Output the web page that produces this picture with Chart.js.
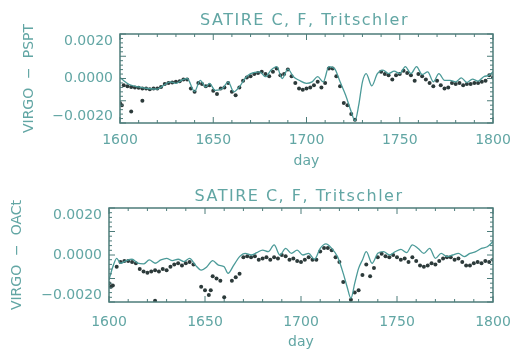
<!DOCTYPE html>
<html>
<head>
<meta charset="utf-8">
<script src="https://cdn.jsdelivr.net/npm/chart.js@4.4.1/dist/chart.umd.min.js"></script>
<style>
  html, body { margin: 0; padding: 0; background: #fff; }
  .panel { width: 511px; }
</style>
</head>
<body>
<div class="panel"><canvas id="topChart" width="511" height="175"></canvas></div>
<div class="panel"><canvas id="bottomChart" width="511" height="176"></canvas></div>
<script>
// values are in units of 0.001 (tick labels carry the real numbers)
const chartTitle = 'SATIRE C, F, Tritschler';
const xTicks = [1600, 1650, 1700, 1750, 1800];
const yTickVals = [-2, -1, 0, 1, 2];
const yTickLabels = ['\u22120.0020', '\u22120.0010', '0.0000', '0.0010', '0.0020'];

// top panel: VIRGO - PSPT
const topModelDays = [1600,1602,1605,1610,1615,1620,1623,1627,1630,1633,1636,1640,1643,1646,1648,1651,1655,1658,1661,1664,1667,1670,1675,1678,1681,1684,1687,1690,1693,1696,1700,1703,1706,1709,1712,1715,1718,1721,1724,1726,1728,1730,1732,1735,1738,1741,1744,1747,1750,1753,1756,1759,1762,1765,1768,1771,1774,1777,1780,1783,1786,1789,1792,1795,1798,1800];
const topModel = [0.05,-0.1,-0.27,-0.38,-0.45,-0.48,-0.33,-0.15,-0.22,-0.08,0,-0.58,-0.08,-0.38,-0.22,-0.53,-0.45,-0.15,-0.6,-0.38,0,0.22,0.3,0.08,0.38,0.53,0,0.42,0.08,-0.08,-0.22,-0.15,0.08,-0.15,0.53,0.45,-0.15,-0.75,-1.5,-1.9,-1.2,-0.15,0.22,-0.33,0.22,0.38,0.22,0.33,0.22,0.53,0.22,0.53,0.18,0.3,-0.15,0.22,-0.08,-0.08,-0.15,0.03,-0.18,-0.03,-0.12,0.08,0.15,0.3];
// observations every 2 days from 1600
const topObs = [-1.1,-0.3,-0.35,-0.38,-0.4,-0.42,-0.45,-0.45,-0.48,-0.45,
  -0.45,-0.38,-0.25,-0.2,-0.18,-0.15,-0.12,-0.05,-0.05,-0.45,
  -0.6,-0.2,-0.25,-0.35,-0.3,-0.55,-0.7,-0.45,-0.4,-0.2,
  -0.6,-0.75,-0.4,-0.1,0.05,0.1,0.2,0.25,0.3,0.2,
  0.1,0.3,0.45,0.15,0.2,0.4,0.1,-0.2,-0.45,-0.5,
  -0.45,-0.4,-0.3,-0.15,-0.4,-0.2,0.45,0.45,0.1,-0.35,
  -1.1,-1.2,-1.6,-1.85,null,null,null,null,null,null,
  0.3,0.2,0.15,-0.05,0.15,0.2,0.35,0.25,0.15,-0.1,
  0.2,0.1,-0.05,-0.2,-0.35,-0.1,-0.3,-0.45,-0.4,-0.2,
  -0.25,-0.2,-0.3,-0.25,-0.25,-0.2,-0.2,-0.15,-0.1,0.15,
  0.05];
const topExtraDays = [1601, 1606, 1612];
const topExtra = [-1.2, -1.48, -1.0];

// bottom panel: VIRGO - OACt
const botModelDays = [1600,1602,1604,1606,1609,1612,1615,1618,1621,1624,1627,1630,1633,1636,1639,1642,1645,1648,1651,1654,1657,1660,1662,1665,1668,1671,1674,1677,1680,1683,1686,1689,1692,1695,1698,1701,1704,1707,1710,1713,1716,1719,1722,1724,1726,1728,1730,1732,1734,1737,1740,1743,1746,1749,1752,1755,1758,1761,1764,1767,1770,1773,1776,1779,1782,1785,1788,1791,1794,1797,1800];
const botModel = [-1.06,-0.5,-0.14,-0.35,-0.24,-0.18,-0.35,-0.38,-0.21,-0.35,-0.21,-0.14,-0.24,-0.18,-0.28,-0.14,-0.43,-0.64,-0.5,-0.24,-0.43,-0.5,-0.78,-0.43,-0.07,0.07,0,0.1,0.21,0.14,0.43,0,0.28,0.07,0.21,0,0.07,-0.18,0.28,0.47,0.28,-0.07,-0.78,-1.35,-1.84,-1.2,-0.57,-0.21,0.14,-0.35,0.07,0.14,0,0.14,0.24,0.1,0.43,0.28,0.07,0.28,-0.14,0.07,-0.07,0,0.07,-0.07,0.07,0.14,0.28,0.35,0.57];
const botObs = [-1.2,-1.3,-0.5,-0.3,-0.25,-0.25,-0.3,-0.35,-0.6,-0.7,
  -0.75,-0.7,-0.65,-0.7,-0.6,-0.65,-0.5,-0.4,-0.35,-0.45,
  -0.35,-0.3,-0.4,null,-1.35,-1.5,-1.7,-0.9,-1.0,-1.1,
  -1.8,null,-1.1,-0.95,-0.8,-0.1,-0.05,-0.1,-0.05,-0.2,
  -0.15,-0.1,-0.2,-0.1,-0.15,0,-0.05,-0.2,-0.15,-0.25,
  -0.3,-0.2,-0.1,-0.2,-0.2,0.15,0.3,0.3,0.2,-0.1,
  -0.3,-1.15,null,-1.9,-1.6,-1.5,-0.85,-0.4,-0.9,-0.55,
  -0.1,0.05,-0.05,-0.1,0,-0.1,-0.2,-0.15,-0.3,-0.1,
  -0.25,-0.45,-0.5,-0.45,-0.35,-0.4,-0.25,-0.15,-0.1,-0.1,
  -0.2,-0.15,-0.3,-0.45,-0.45,-0.35,-0.3,-0.35,-0.25,-0.3,
  -0.2];
const botExtraDays = [1601, 1624, 1653];
const botExtra = [-1.35, -1.95, -1.5];

const textColor = '#62a6a4';
const lineColor = '#4b9a98';
const dotColor = '#2c3a3a';
const frameColor = '#4d7c7a';
const FONT = 'DejaVu Sans';

// box with inward ticks, IDL style, plus the spaced-out title
const frame = {
  id: 'frame',
  afterDatasetsDraw(chart, args, o) {
    const { ctx, chartArea: a, scales: { x, y } } = chart;
    ctx.save();
    ctx.strokeStyle = frameColor;
    ctx.lineWidth = 1.5;
    ctx.strokeRect(a.left, a.top, a.right - a.left, a.bottom - a.top);
    ctx.lineWidth = 1;
    ctx.beginPath();
    for (let d = 1600; d <= 1800; d += 10) {
      const px = x.getPixelForValue(d);
      const len = d % 50 === 0 ? 6 : 3;
      ctx.moveTo(px, a.bottom); ctx.lineTo(px, a.bottom - len);
      ctx.moveTo(px, a.top); ctx.lineTo(px, a.top + len);
    }
    for (let k = -10; k <= 10; k++) {
      const py = y.getPixelForValue(k / 5);
      const len = k % 5 === 0 ? 6 : 3;
      ctx.moveTo(a.left, py); ctx.lineTo(a.left + len, py);
      ctx.moveTo(a.right, py); ctx.lineTo(a.right - len, py);
    }
    ctx.stroke();

    ctx.fillStyle = textColor;
    ctx.font = '16px "' + FONT + '"';
    ctx.letterSpacing = '1.5px';
    ctx.textAlign = 'center';
    ctx.textBaseline = 'middle';
    ctx.fillText(chartTitle, (a.left + a.right) / 2 - 2, o.titleY);
    ctx.restore();
  }
};

function pts(days, vals) {
  return days.map((d, i) => ({ x: d, y: vals[i] }));
}

function makeChart(id, opt) {
  const obs = opt.obs.map((v, i) => ({ x: 1600 + 2 * i, y: v }));
  return new Chart(document.getElementById(id), {
    type: 'line',
    data: {
      datasets: [
        {
          data: pts(opt.modelDays, opt.model),
          borderColor: lineColor,
          borderWidth: 1.3,
          pointRadius: 0,
          tension: 0.4,
          cubicInterpolationMode: 'monotone'
        },
        {
          data: obs.concat(pts(opt.extraDays, opt.extra)),
          showLine: false,
          pointRadius: 2,
          pointBorderWidth: 0,
          pointBackgroundColor: dotColor
        }
      ]
    },
    options: {
      responsive: false,
      animation: false,
      layout: { padding: { left: 0, right: 18, top: opt.areaTop, bottom: 0 } },
      plugins: {
        legend: { display: false },
        tooltip: { enabled: false },
        title: { display: false },
        frame: { titleY: opt.titleY }
      },
      scales: {
        x: {
          type: 'linear',
          min: 1600, max: 1800,
          afterBuildTicks: s => { s.ticks = xTicks.map(v => ({ value: v })); },
          afterFit: s => { s.height = opt.xHeight; s.paddingLeft = 0; s.paddingRight = 0; },
          grid: { display: false, drawTicks: false },
          border: { display: false },
          ticks: {
            color: textColor, font: { family: FONT, size: 14 }, padding: opt.xPad, maxRotation: 0,
            callback: v => String(v)
          },
          title: {
            display: true, text: 'day', color: textColor,
            font: { family: FONT, size: 14 }, padding: { top: 0, bottom: opt.dayPad }
          }
        },
        y: {
          min: -2, max: 2,
          afterBuildTicks: s => { s.ticks = yTickVals.map(v => ({ value: v })); },
          afterFit: s => { s.width = opt.yWidth; s.paddingTop = 0; s.paddingBottom = 0; },
          grid: { display: false, drawTicks: false },
          border: { display: false },
          ticks: {
            color: textColor, font: { family: FONT, size: 14, lineHeight: 1 }, padding: 7,
            // end labels sit inside the box, as in the original plot
            callback: (v, i) => i === 0 ? [yTickLabels[i], ''] :
              i === yTickLabels.length - 1 ? ['', yTickLabels[i]] : yTickLabels[i]
          },
          title: {
            display: true, text: opt.yTitle, color: textColor,
            font: { family: FONT, size: 14 }, padding: { top: opt.yTitlePad, bottom: 0 }
          }
        }
      }
    },
    plugins: [frame]
  });
}

makeChart('topChart', {
  modelDays: topModelDays, model: topModel, obs: topObs,
  extraDays: topExtraDays, extra: topExtra,
  yTitle: 'VIRGO  \u2212  PSPT',
  titleY: 21, areaTop: 34, xHeight: 52, xPad: 9, dayPad: 5, yWidth: 120, yTitlePad: 21
});

makeChart('bottomChart', {
  modelDays: botModelDays, model: botModel, obs: botObs,
  extraDays: botExtraDays, extra: botExtra,
  yTitle: 'VIRGO  \u2212  OACt',
  titleY: 22, areaTop: 33, xHeight: 49, xPad: 12, dayPad: 0, yWidth: 109, yTitlePad: 9
});
</script>
</body>
</html>
